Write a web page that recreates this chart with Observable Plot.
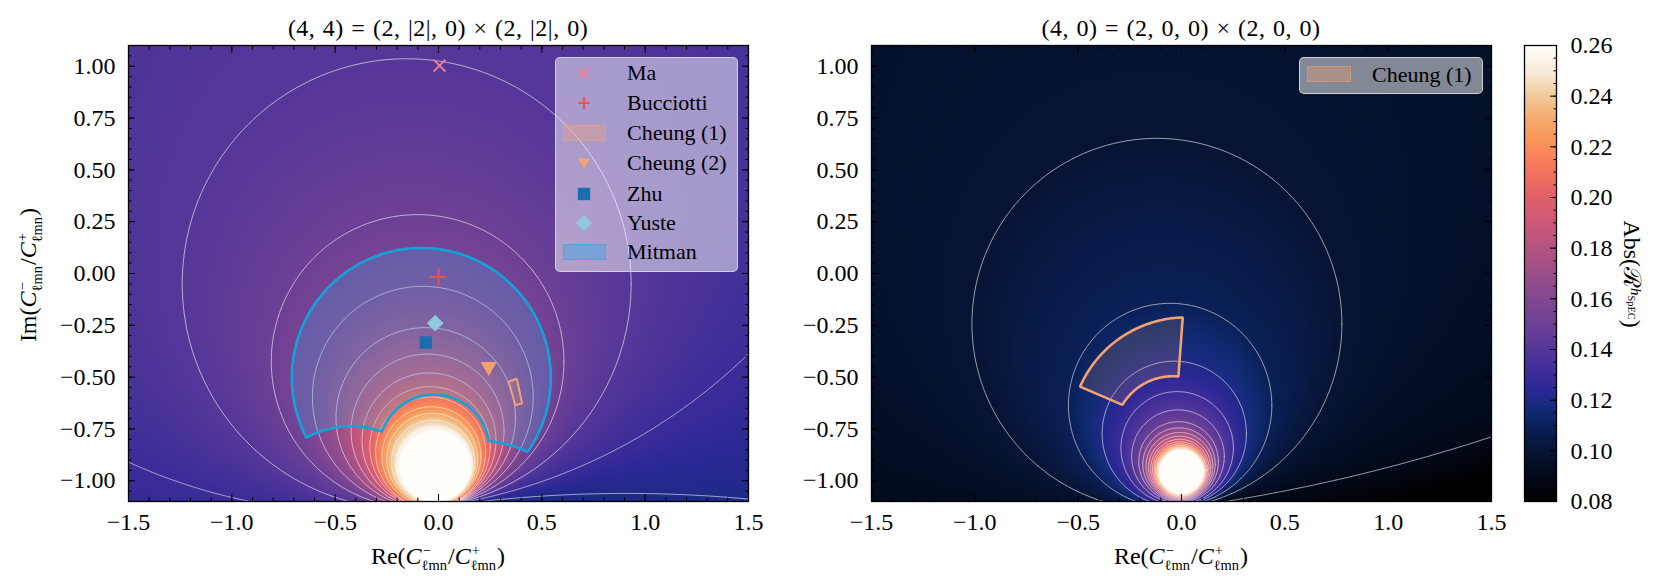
<!DOCTYPE html>
<html><head><meta charset="utf-8">
<script src="https://cdn.jsdelivr.net/npm/d3@7"></script>
<script src="https://cdn.jsdelivr.net/npm/@observablehq/plot@0.6"></script>
<style>
html,body{margin:0;padding:0;background:#fff}
#fig{position:relative;width:1662px;height:587px;overflow:hidden;font-family:"Liberation Serif","DejaVu Serif",serif;color:#000}
#fig svg{position:absolute;top:0}
#fig svg text{font-family:"Liberation Serif","DejaVu Serif",serif}
.lbl{position:absolute;white-space:nowrap;line-height:1;font-size:24px;font-family:"Liberation Serif","DejaVu Serif",serif}
.ctr{transform:translate(-50%,-50%)}
.sp{display:inline-block;width:0;position:relative;top:-0.66em;left:0.08em;font-size:0.6em;line-height:1;overflow:visible}
.sb{display:inline-block;position:relative;top:0.42em;font-size:0.6em;line-height:1;margin-right:0.08em}
.legend{position:absolute;background:rgba(255,255,255,0.5);border:1px solid rgba(220,220,220,0.85);border-radius:5px;box-sizing:border-box}
.item{position:absolute;font-size:22px;line-height:1;white-space:nowrap}
.sym{position:absolute;overflow:visible}
</style></head>
<body><div id="fig"></div>
<script>
// ---------- axes / ticks ----------
const xDomain = [-1.5, 1.5];
const yDomain = [-1.1, 1.1];
const cDomain = [0.08, 0.26];
const xMajor = [-1.5, -1.0, -0.5, 0.0, 0.5, 1.0, 1.5];
const yMajor = [-1.0, -0.75, -0.5, -0.25, 0.0, 0.25, 0.5, 0.75, 1.0];
const cMajor = [0.08, 0.10, 0.12, 0.14, 0.16, 0.18, 0.20, 0.22, 0.24, 0.26];
const xMinor = d3.range(-15, 16).map(i => i / 10);
const yMinor = d3.range(-22, 23).map(i => i / 20);
const cMinor = d3.range(16, 53).map(i => i / 200);

// ---------- colour map ----------
const cmapValues = [0.08, 0.091, 0.10, 0.11, 0.115, 0.12, 0.124, 0.13, 0.14, 0.15, 0.16, 0.17, 0.18, 0.19, 0.20, 0.207, 0.215, 0.223, 0.232, 0.24, 0.249, 0.26];
const cmapColors = ["#000000","#030a1c","#061434","#0a2058","#0f2a70","#1f2a88","#2a2893","#3c2c99","#553799","#6c4095","#834791","#9b4e89","#b45481","#cc5878","#e0606a","#ef6b5f","#f8805a","#f99758","#f5ae72","#f0c998","#f6ead7","#fffefb"];

// ---------- left panel contours (circles) ----------
const leftLevel  = [0.12, 0.13, 0.14, 0.15, 0.16, 0.17, 0.18, 0.19, 0.20, 0.21, 0.22, 0.23, 0.24, 0.25, 0.26];
const leftHigherInside = [false, true, true, true, true, true, true, true, true, true, true, true, true, true, true];
const leftCx = [0.909, -0.383, -0.154, -0.101, -0.076, -0.062, -0.053, -0.046, -0.041, -0.038, -0.034, -0.030, -0.026, -0.020, -0.015];
const leftCy = [-7.461, 1.548, -0.050, -0.424, -0.596, -0.695, -0.759, -0.804, -0.837, -0.862, -0.882, -0.895, -0.909, -0.922, -0.932];
const leftR  = [6.4, 2.7, 1.086, 0.708, 0.534, 0.434, 0.370, 0.324, 0.291, 0.266, 0.239, 0.220, 0.202, 0.183, 0.169];

// ---------- right panel contours ----------
const rightLevel = [0.09, 0.10, 0.11, 0.12, 0.13, 0.14, 0.15, 0.16, 0.17, 0.18, 0.19, 0.20, 0.21, 0.22, 0.23, 0.24, 0.25, 0.26];
const rightHigherInside = rightLevel.map(() => true);
const rightCx = [-1.117, -0.119, -0.055, -0.035, -0.021, -0.017, -0.014, -0.012, -0.010, -0.009, -0.008, -0.007, -0.006, -0.005, -0.004, -0.003, -0.002, -0.001];
const rightCy = [7.194, -0.243, -0.636, -0.772, -0.842, -0.882, -0.9075, -0.920, -0.9285, -0.9355, -0.941, -0.945, -0.9485, -0.951, -0.953, -0.9545, -0.956, -0.957];
const rightR  = [8.4, 0.895, 0.492, 0.349, 0.272, 0.224, 0.1925, 0.175, 0.1615, 0.1505, 0.141, 0.133, 0.1265, 0.121, 0.116, 0.1115, 0.108, 0.105];

// ---------- regions (edges given by three points read on each arc) ----------
const mitmanRe = [[-0.639, -0.098, 0.432], [0.432, 0.337, 0.243], [0.243, -0.030, -0.274], [-0.274, -0.460, -0.639]];
const mitmanIm = [[-0.792, 0.123, -0.860], [-0.860, -0.826, -0.808], [-0.808, -0.585, -0.763], [-0.763, -0.739, -0.792]];
const cheung1LeftRe = [0.339, 0.379, 0.404, 0.372];
const cheung1LeftIm = [-0.522, -0.508, -0.626, -0.636];
const cheung1RightRe = [[-0.491, -0.298, 0.006], [0.006, -0.0045, -0.015], [-0.015, -0.168, -0.286], [-0.286, -0.3885, -0.491]];
const cheung1RightIm = [[-0.546, -0.312, -0.212], [-0.212, -0.3545, -0.497], [-0.497, -0.525, -0.634], [-0.634, -0.590, -0.546]];

// ---------- point estimates ----------
const markerNames = ["Ma", "Bucciotti", "Cheung (2)", "Zhu", "Yuste"];
const markerRe = [0.005, 0.0, 0.243, -0.061, -0.016];
const markerIm = [1.003, -0.017, -0.449, -0.333, -0.240];

// ---------- colours ----------
const colMa = "#f47a9c", colBuc = "#f0504c", colCh = "#f4a272", colZhu = "#1a6eb0", colYu = "#90c8de", colMit = "#14a2d8";
const serif = "Liberation Serif, DejaVu Serif, serif";

// ================= helpers =================
function contourTable(level, hi, cx, cy, r) {
  return level.map((l, i) => ({level: l, higherInside: hi[i], cx: cx[i], cy: cy[i], r: r[i]})).sort((a, b) => a.level - b.level);
}
function makeField(C, belowSlope) {
  const n = C.length;
  return (x, y) => {
    const d = new Array(n);
    for (let k = 0; k < n; k++) {
      const c = C[k];
      const s = Math.hypot(x - c.cx, y - c.cy) - c.r;
      d[k] = c.higherInside ? -s : s; // >0 : point lies on the higher side
    }
    let i = n - 1;
    while (i >= 0 && d[i] <= 0) i--;
    if (i < 0) return C[0].level + belowSlope * d[0];
    if (i === n - 1) return C[i].level + 0.5 * d[i];
    const a = d[i], b = -d[i + 1];
    return C[i].level + (C[i + 1].level - C[i].level) * a / (a + b);
  };
}
function circlePts(C) {
  const out = [];
  C.forEach((c, id) => {
    const n = c.r > 2 ? 6000 : 720;
    for (let k = 0; k <= n; k++) {
      const t = 2 * Math.PI * k / n;
      out.push({id, x: c.cx + c.r * Math.cos(t), y: c.cy + c.r * Math.sin(t)});
    }
  });
  return out;
}
function arc3(p0, pm, p1, n = 80) {
  const [x1, y1] = p0, [x2, y2] = pm, [x3, y3] = p1;
  const D = 2 * (x1 * (y2 - y3) + x2 * (y3 - y1) + x3 * (y1 - y2));
  if (Math.abs(D) < 1e-6) return [p0, p1];
  const s1 = x1 * x1 + y1 * y1, s2 = x2 * x2 + y2 * y2, s3 = x3 * x3 + y3 * y3;
  const ux = (s1 * (y2 - y3) + s2 * (y3 - y1) + s3 * (y1 - y2)) / D;
  const uy = (s1 * (x3 - x2) + s2 * (x1 - x3) + s3 * (x2 - x1)) / D;
  const r = Math.hypot(x1 - ux, y1 - uy);
  const TAU = 2 * Math.PI, norm = a => ((a % TAU) + TAU) % TAU;
  const a0 = Math.atan2(y1 - uy, x1 - ux), am = Math.atan2(y2 - uy, x2 - ux), a1 = Math.atan2(y3 - uy, x3 - ux);
  const m = norm(am - a0), e = norm(a1 - a0);
  const sweep = m < e ? e : e - TAU;
  return d3.range(n + 1).map(k => [ux + r * Math.cos(a0 + sweep * k / n), uy + r * Math.sin(a0 + sweep * k / n)]);
}
function outline(re, im) {
  const pts = [];
  re.forEach((r, i) => {
    const seg = arc3([r[0], im[i][0]], [r[1], im[i][1]], [r[2], im[i][2]]);
    seg.slice(i === 0 ? 0 : 1).forEach(p => pts.push({x: p[0], y: p[1]}));
  });
  return pts;
}

const colorScale = {type: "linear", domain: cmapValues, range: cmapColors, clamp: true};
const plotStyle = {fontFamily: serif, fontSize: "24px", background: "transparent", color: "black", overflow: "visible"};
const blank = () => "";

function frameAxes() {
  return [
    Plot.axisX(xMajor, {anchor: "bottom", tickSize: -7, tickPadding: 18.5, tickFormat: d3.format(".1f"), fontSize: 24, fontFamily: serif, label: null}),
    Plot.axisX(xMinor, {anchor: "bottom", tickSize: -3.5, tickFormat: blank, label: null}),
    Plot.axisX(xMajor, {anchor: "top", tickSize: -7, tickFormat: blank, label: null}),
    Plot.axisX(xMinor, {anchor: "top", tickSize: -3.5, tickFormat: blank, label: null}),
    Plot.axisY(yMajor, {anchor: "left", tickSize: -7, tickPadding: 20, tickFormat: d3.format(".2f"), fontSize: 24, fontFamily: serif, label: null}),
    Plot.axisY(yMinor, {anchor: "left", tickSize: -3.5, tickFormat: blank, label: null}),
    Plot.axisY(yMajor, {anchor: "right", tickSize: -7, tickFormat: blank, label: null}),
    Plot.axisY(yMinor, {anchor: "right", tickSize: -3.5, tickFormat: blank, label: null})
  ];
}

function panel({width, marginLeft, marginRight, contours, belowSlope, extra}) {
  return Plot.plot({
    width, height: 587, marginLeft, marginRight, marginTop: 45, marginBottom: 86,
    x: {domain: xDomain}, y: {domain: yDomain},
    color: colorScale,
    style: plotStyle,
    marks: [
      Plot.raster({fill: makeField(contours, belowSlope), x1: xDomain[0], x2: xDomain[1], y1: yDomain[0], y2: yDomain[1], pixelSize: 1}),
      Plot.line(circlePts(contours), {x: "x", y: "y", z: "id", stroke: "white", strokeOpacity: 0.6, strokeWidth: 1, clip: true}),
      ...extra,
      ...frameAxes(),
      Plot.frame({stroke: "black", strokeWidth: 1.3})
    ]
  });
}

const markers = markerNames.map((name, i) => ({name, re: markerRe[i], im: markerIm[i]}));
const pick = n => markers.filter(d => d.name === n);

const leftContours = contourTable(leftLevel, leftHigherInside, leftCx, leftCy, leftR);
const rightContours = contourTable(rightLevel, rightHigherInside, rightCx, rightCy, rightR);

const mitmanPts = outline(mitmanRe, mitmanIm);
const ch1LeftPts = cheung1LeftRe.map((x, i) => ({x, y: cheung1LeftIm[i]}));
const ch1RightPts = outline(cheung1RightRe, cheung1RightIm);

const fig = document.getElementById("fig");

const left = panel({
  width: 760, marginLeft: 128, marginRight: 12, contours: leftContours, belowSlope: 0.03,
  extra: [
    Plot.line(mitmanPts, {x: "x", y: "y", curve: "linear-closed", fill: "#3aa6e4", fillOpacity: 0.26, stroke: colMit, strokeWidth: 2.6, strokeLinejoin: "miter"}),
    Plot.line(ch1LeftPts, {x: "x", y: "y", curve: "linear-closed", fill: colCh, fillOpacity: 0.15, stroke: colCh, strokeWidth: 2, strokeLinejoin: "miter"}),
    Plot.dot(pick("Ma"), {x: "re", y: "im", symbol: "times", r: 5.5, stroke: colMa, strokeWidth: 2}),
    Plot.dot(pick("Bucciotti"), {x: "re", y: "im", symbol: "plus", r: 5.5, stroke: colBuc, strokeWidth: 2}),
    Plot.dot(pick("Cheung (2)"), {x: "re", y: "im", symbol: "triangle", r: 6, fill: colCh, stroke: null, rotate: 180}),
    Plot.dot(pick("Zhu"), {x: "re", y: "im", symbol: "square", r: 7, fill: colZhu, stroke: null}),
    Plot.dot(pick("Yuste"), {x: "re", y: "im", symbol: "diamond2", r: 7.5, fill: colYu, stroke: null})
  ]
});
left.style.left = "0px";
fig.appendChild(left);

const right = panel({
  width: 745, marginLeft: 111, marginRight: 14, contours: rightContours, belowSlope: 0.06,
  extra: [
    Plot.line(ch1RightPts, {x: "x", y: "y", curve: "linear-closed", fill: colCh, fillOpacity: 0.16, stroke: colCh, strokeWidth: 2.6, strokeLinejoin: "miter"})
  ]
});
right.style.left = "760px";
fig.appendChild(right);

// colour bar
const cbar = Plot.plot({
  width: 162, height: 587, marginLeft: 24, marginRight: 106, marginTop: 45, marginBottom: 86,
  x: {domain: [0, 1], axis: null}, y: {domain: cDomain},
  color: colorScale,
  style: plotStyle,
  marks: [
    Plot.raster({fill: (x, y) => y, x1: 0, x2: 1, y1: cDomain[0], y2: cDomain[1], pixelSize: 1}),
    Plot.axisY(cMajor, {anchor: "right", tickSize: -7, tickPadding: 21, tickFormat: d3.format(".2f"), fontSize: 24, fontFamily: serif, label: null}),
    Plot.axisY(cMinor, {anchor: "right", tickSize: -3.5, tickFormat: blank, label: null}),
    Plot.frame({stroke: "black", strokeWidth: 1.3})
  ]
});
cbar.style.left = "1500px";
fig.appendChild(cbar);

// ---------- text ----------
function addHTML(html) { const t = document.createElement("div"); t.innerHTML = html; const el = t.firstElementChild; fig.appendChild(el); return el; }
const C = (s) => `<i>C</i><span class="sp">${s}</span><span class="sb">ℓmn</span>`;
addHTML(`<div class="lbl ctr" style="left:438px;top:28px;letter-spacing:0.5px;word-spacing:1px">(4, 4) = (2, |2|, 0) × (2, |2|, 0)</div>`);
addHTML(`<div class="lbl ctr" style="left:1181px;top:28px;letter-spacing:0.5px;word-spacing:1px">(4, 0) = (2, 0, 0) × (2, 0, 0)</div>`);
addHTML(`<div class="lbl ctr" style="left:438px;top:556px">Re(${C("−")}/${C("+")})</div>`);
addHTML(`<div class="lbl ctr" style="left:1181px;top:556px">Re(${C("−")}/${C("+")})</div>`);
addHTML(`<div class="lbl" style="left:28px;top:275px;transform:translate(-50%,-50%) rotate(-90deg)">Im(${C("−")}/${C("+")})</div>`);
addHTML(`<div class="lbl" style="left:1632px;top:274px;transform:translate(-50%,-50%) rotate(90deg)">Abs(ℛ<span style="display:inline-block;position:relative;top:-0.5em;font-size:0.62em;line-height:1"><i>h</i><span style="display:inline-block;position:relative;top:0.35em;font-size:0.7em;line-height:1">SpEC</span></span>)</div>`);

// ---------- legends ----------
addHTML(`<div class="legend" style="left:555px;top:57px;width:183px;height:215px"></div>`);
addHTML(`<div class="legend" style="left:1299px;top:57px;width:184px;height:37px"></div>`);
function sym(cx, cy, svg) { addHTML(`<svg class="sym" style="left:${cx - 12}px;top:${cy - 12}px" width="24" height="24" viewBox="-12 -12 24 24">${svg}</svg>`); }
function patch(x0, y0, w, h, fill, stroke) { addHTML(`<div style="position:absolute;left:${x0}px;top:${y0}px;width:${w}px;height:${h}px;box-sizing:border-box;background:${fill};border:1.5px solid ${stroke}"></div>`); }
function item(x, cy, text) { addHTML(`<div class="item" style="left:${x}px;top:${cy - 11}px">${text}</div>`); }
const rows = [73, 103, 133, 163, 194, 223, 252];
sym(584, rows[0], `<path d="M-5,-5L5,5M-5,5L5,-5" stroke="${colMa}" stroke-width="2"/>`);
sym(584, rows[1], `<path d="M-6,0H6M0,-6V6" stroke="${colBuc}" stroke-width="2"/>`);
patch(563, rows[2] - 8, 43, 16, "rgba(244,160,112,0.35)", "rgba(244,160,112,0.45)");
sym(584, rows[3], `<path d="M-6,-4.5L6,-4.5L0,6Z" fill="${colCh}"/>`);
sym(584, rows[4], `<rect x="-6.2" y="-6.2" width="12.4" height="12.4" fill="${colZhu}"/>`);
sym(584, rows[5], `<path d="M0,-8L8,0L0,8L-8,0Z" fill="${colYu}"/>`);
patch(563, rows[6] - 8, 43, 16, "rgba(58,166,228,0.45)", "rgba(58,166,228,0.6)");
["Ma", "Bucciotti", "Cheung (1)", "Cheung (2)", "Zhu", "Yuste", "Mitman"].forEach((t, i) => item(627, rows[i], t));
patch(1307, 66, 44, 16, "rgba(244,160,112,0.35)", "rgba(244,160,112,0.45)");
item(1372, 75, "Cheung (1)");
</script>
</body></html>
